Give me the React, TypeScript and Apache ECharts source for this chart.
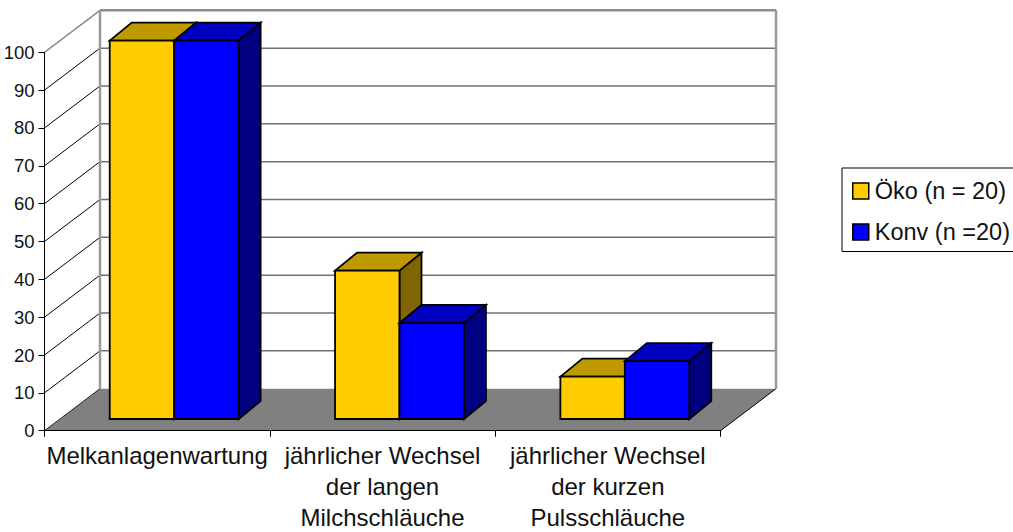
import React, { useEffect, useRef } from "react";
import * as echarts from "echarts";

const categories = [
  "Melkanlagenwartung",
  "jährlicher Wechsel\nder langen\nMilchschläuche",
  "jährlicher Wechsel\nder kurzen\nPulsschläuche",
];
const oekoName = "Öko (n = 20)";
const konvName = "Konv (n =20)";
const oekoValues = [100, 39.2, 11.2];
const konvValues = [100, 25.4, 15.3];
const yTicks = [0, 10, 20, 30, 40, 50, 60, 70, 80, 90, 100];

const WALL_DX = 55.5;
const WALL_DY = 42;
const BAR_OFF_X = 17;
const BAR_OFF_Y = 11.7;
const BAR_FRAC = 0.286;
const BAR_DX = 22;
const BAR_DY = 18;
const FONT = "'Liberation Sans', Arial, sans-serif";

function wallItem(params: any, api: any) {
  const v = api.value(0);
  const cs = params.coordSys;
  const p = api.coord([0, v]);
  const y = p[1];
  const left = cs.x;
  const right = cs.x + cs.width;
  const children: any[] = [];
  const grey = "#808080";
  if (v === 0) {
    children.push({
      type: "polygon",
      shape: {
        points: [
          [left, y],
          [left + WALL_DX, y - WALL_DY],
          [right + WALL_DX, y - WALL_DY],
          [right, y],
        ],
      },
      style: { fill: grey, stroke: null },
    });
    children.push({
      type: "polyline",
      shape: { points: [[left, y], [left + WALL_DX, y - WALL_DY]] },
      style: { fill: null, stroke: "#222", lineWidth: 1 },
    });
    children.push({
      type: "polyline",
      shape: { points: [[right, y], [right + WALL_DX, y - WALL_DY]] },
      style: { fill: null, stroke: "#000", lineWidth: 1 },
    });
    return { type: "group", children };
  }
  const top = v === 100;
  children.push({
    type: "line",
    shape: { x1: left, y1: y, x2: left + WALL_DX, y2: y - WALL_DY },
    style: { stroke: top ? "#8c8c8c" : "#000", lineWidth: top ? 1.5 : 1 },
  });
  children.push({
    type: "line",
    shape: { x1: left + WALL_DX, y1: y - WALL_DY, x2: right + WALL_DX, y2: y - WALL_DY },
    style: { stroke: top ? "#8c8c8c" : "#707070", lineWidth: top ? 2.5 : 1.5 },
  });
  if (top) {
    const bottomY = api.coord([0, 0])[1] - WALL_DY;
    children.push({
      type: "line",
      shape: { x1: left + WALL_DX, y1: y - WALL_DY, x2: left + WALL_DX, y2: bottomY },
      style: { stroke: "#999", lineWidth: 2.5 },
    });
    children.push({
      type: "line",
      shape: { x1: right + WALL_DX, y1: y - WALL_DY, x2: right + WALL_DX, y2: bottomY },
      style: { stroke: "#999", lineWidth: 2.5 },
    });
  }
  return { type: "group", children };
}

function barRenderer(slot: number, front: string, topFace: string, side: string) {
  return (_params: any, api: any) => {
    const cat = api.value(0);
    const val = api.value(1);
    const band = api.size([1, 0])[0];
    const w = band * BAR_FRAC;
    const c = api.coord([cat, 0]);
    const t = api.coord([cat, val]);
    const x0 = c[0] + BAR_OFF_X + (slot - 1) * w;
    const x1 = x0 + w;
    const yb = c[1] - BAR_OFF_Y;
    const yt = t[1] - BAR_OFF_Y;
    const style = (fill: string) => ({ fill, stroke: "#000", lineWidth: 1.8, lineJoin: "miter" });
    return {
      type: "group",
      children: [
        {
          type: "polygon",
          shape: { points: [[x1, yt], [x1 + BAR_DX, yt - BAR_DY], [x1 + BAR_DX, yb - BAR_DY], [x1, yb]] },
          style: style(side),
        },
        {
          type: "polygon",
          shape: { points: [[x0, yt], [x0 + BAR_DX, yt - BAR_DY], [x1 + BAR_DX, yt - BAR_DY], [x1, yt]] },
          style: style(topFace),
        },
        {
          type: "rect",
          shape: { x: x0, y: yt, width: w, height: yb - yt },
          style: style(front),
        },
      ],
    };
  };
}

export default function App() {
  const ref = useRef<HTMLDivElement>(null);
  useEffect(() => {
    document.body.style.margin = "0";
    const chart = echarts.init(ref.current!, undefined, { renderer: "svg" });
    chart.setOption({
      animation: false,
      backgroundColor: "#ffffff",
      textStyle: { fontFamily: FONT },
      grid: { left: 44.5, top: 52.3, width: 676, height: 378.4, outerBoundsMode: "none" },
      xAxis: {
        type: "category",
        data: categories,
        z: 10,
        axisLine: { lineStyle: { color: "#000", width: 1 } },
        axisTick: { show: true, alignWithLabel: false, length: 6, lineStyle: { color: "#000" } },
        axisLabel: {
          interval: 0,
          color: "#111",
          fontFamily: FONT,
          fontSize: 24,
          lineHeight: 31,
          margin: 9.5,
        },
      },
      yAxis: {
        type: "value",
        min: 0,
        max: 100,
        interval: 10,
        z: 10,
        splitLine: { show: false },
        axisLine: { show: true, lineStyle: { color: "#000", width: 1 } },
        axisTick: { show: true, length: 6, lineStyle: { color: "#000" } },
        axisLabel: { color: "#111", fontFamily: FONT, fontSize: 18.5, margin: 10 },
      },
      legend: {
        left: 842,
        top: 168,
        orient: "vertical",
        data: [oekoName, konvName],
        icon: "rect",
        itemWidth: 16,
        itemHeight: 16,
        itemGap: 17,
        padding: [11, 10, 7.5, 10],
        backgroundColor: "#fff",
        borderColor: "#000",
        borderWidth: 1,
        itemStyle: { borderColor: "#000", borderWidth: 1.5 },
        textStyle: { color: "#111", fontFamily: FONT, fontSize: 23.5, padding: [0, 0, 0, 1] },
      },
      series: [
        {
          type: "custom",
          name: "walls",
          data: yTicks.map((v) => [v]),
          encode: { y: 0 },
          clip: false,
          silent: true,
          renderItem: wallItem,
        },
        {
          type: "custom",
          name: oekoName,
          data: oekoValues.map((v, i) => [i, v]),
          encode: { x: 0, y: 1 },
          clip: false,
          itemStyle: { color: "#FFCC00" },
          renderItem: barRenderer(0, "#FFCC00", "#BF9900", "#806600"),
        },
        {
          type: "custom",
          name: konvName,
          data: konvValues.map((v, i) => [i, v]),
          encode: { x: 0, y: 1 },
          clip: false,
          itemStyle: { color: "#0000FF" },
          renderItem: barRenderer(1, "#0000FF", "#0000BF", "#000080"),
        },
      ],
    });
    return () => chart.dispose();
  }, []);
  return <div ref={ref} style={{ position: "absolute", left: 0, top: 0, width: 1013, height: 532 }} />;
}
